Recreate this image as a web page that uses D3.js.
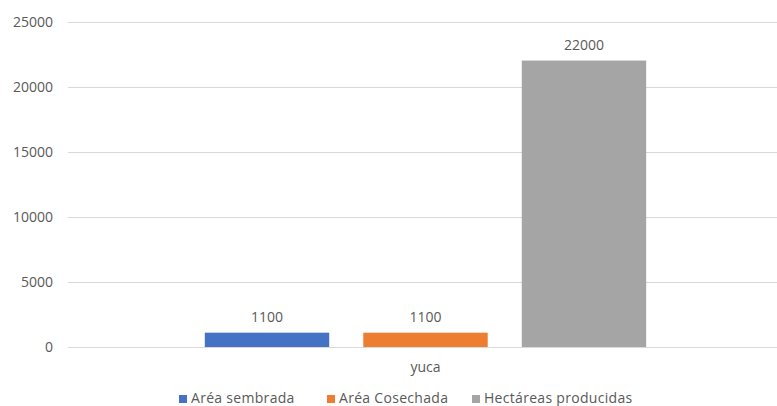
<!DOCTYPE html>
<html>
<head>
<meta charset="utf-8">
<script src="https://cdn.jsdelivr.net/npm/d3@7"></script>
<style>
  body { margin: 0; background: #fff; }
  svg text { font-family: "Open Sans", sans-serif; fill: #595959; }
</style>
</head>
<body>
<div id="chart"></div>
<script>
// datos
const categories = ["yuca"];
const seriesNames = ["Aréa sembrada", "Aréa Cosechada", "Hectáreas producidas"];
const seriesValues = [1100, 1100, 22000];
const seriesColors = ["#4472C4", "#ED7D31", "#A5A5A5"];
const yTicks = [0, 5000, 10000, 15000, 20000, 25000];

const width = 777, height = 406;
const plotLeft = 68, plotRight = 783, plotTop = 21.5, plotBottom = 347;

const svg = d3.select("#chart").append("svg")
    .attr("width", width)
    .attr("height", height);

// escalas
const x0 = d3.scaleBand()
    .domain(categories)
    .range([plotLeft, plotRight])
    .paddingInner(0)
    .paddingOuter(0.31);

const x1 = d3.scaleBand()
    .domain(seriesNames)
    .range([0, x0.bandwidth()])
    .paddingInner(0.215)
    .paddingOuter(0);

const y = d3.scaleLinear()
    .domain([0, 25000])
    .range([plotBottom, plotTop]);

// lineas de cuadricula
svg.append("g")
    .selectAll("line")
    .data(yTicks)
    .join("line")
    .attr("x1", plotLeft)
    .attr("x2", width)
    .attr("y1", d => Math.round(y(d)) + 0.5)
    .attr("y2", d => Math.round(y(d)) + 0.5)
    .attr("stroke", "#d9d9d9")
    .attr("stroke-width", 1);

// etiquetas eje y
svg.append("g")
    .selectAll("text")
    .data(yTicks)
    .join("text")
    .attr("x", 53)
    .attr("y", d => y(d))
    .attr("dy", "0.36em")
    .attr("text-anchor", "end")
    .style("font-size", "14px")
    .text(d => d);

// barras
const group = svg.append("g")
    .attr("transform", `translate(${x0("yuca")},0)`);

group.selectAll("rect")
    .data(seriesNames)
    .join("rect")
    .attr("x", d => x1(d))
    .attr("y", (d, i) => y(seriesValues[i]))
    .attr("width", x1.bandwidth())
    .attr("height", (d, i) => plotBottom - y(seriesValues[i]))
    .attr("fill", (d, i) => seriesColors[i]);

// valores
group.selectAll(".val")
    .data(seriesNames)
    .join("text")
    .attr("class", "val")
    .attr("x", d => x1(d) + x1.bandwidth() / 2)
    .attr("y", (d, i) => y(seriesValues[i]) - 11)
    .attr("text-anchor", "middle")
    .style("font-size", "14px")
    .text((d, i) => seriesValues[i]);

// categoria
svg.append("text")
    .attr("x", x0("yuca") + x0.bandwidth() / 2)
    .attr("y", 372)
    .attr("text-anchor", "middle")
    .style("font-size", "14px")
    .text(categories[0]);

// leyenda
const legendX = [179, 327, 472];
const legend = svg.append("g")
    .selectAll("g")
    .data(seriesNames)
    .join("g")
    .attr("transform", (d, i) => `translate(${legendX[i]},395)`);

legend.append("rect")
    .attr("width", 8)
    .attr("height", 8)
    .attr("fill", (d, i) => seriesColors[i]);

legend.append("text")
    .attr("x", 12)
    .attr("y", 8)
    .style("font-size", "14px")
    .style("letter-spacing", "0.3px")
    .text(d => d);
</script>
</body>
</html>
